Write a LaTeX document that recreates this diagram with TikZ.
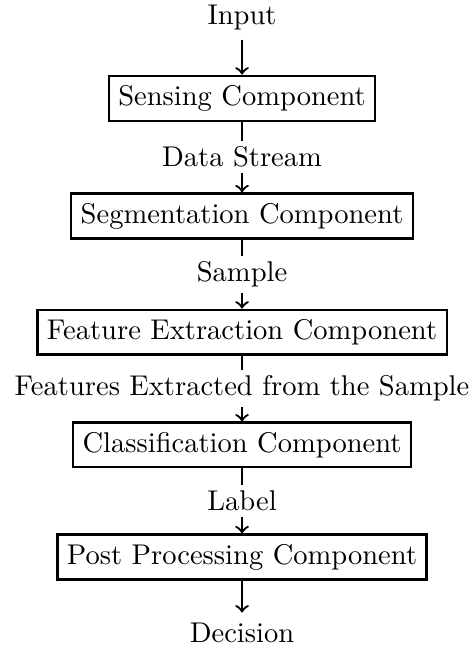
\documentclass[tikz,border=0pt]{standalone}
\usepackage{tikz}
\usetikzlibrary{arrows}
\tikzset{
    stagebox/.style={draw, thick, inner sep=3.33pt} }
\tikzset{
    flowarrow/.style={->, thick} }
\tikzset{
    flowlabel/.style={fill=white, inner sep=2pt} }

\begin{document}
\begin{tikzpicture}

  \useasboundingbox (-2.981,0) rectangle (2.846,-8.03);

  \node (input) at (0,-0.21) {Input};
  \node [stagebox] (sensing) at (0,-1.21) {Sensing Component};
  \node [stagebox] (segment) at (0,-2.66) {Segmentation Component};
  \node [stagebox] (feature) at (0,-4.09) {Feature Extraction Component};
  \node [stagebox] (classify) at (0,-5.48) {Classification Component};
  \node [stagebox] (postproc) at (0,-6.86) {Post Processing Component};
  \node (decision) at (0,-7.79) {Decision};

  \draw [flowarrow] (input) -- (sensing);
  \draw [flowarrow] (sensing) -- node [flowlabel] {Data Stream} (segment);
  \draw [flowarrow] (segment) -- node [flowlabel] {Sample} (feature);
  \draw [flowarrow] (feature) -- node [flowlabel] {Features Extracted from the Sample} (classify);
  \draw [flowarrow] (classify) -- node [flowlabel] {Label} (postproc);
  \draw [flowarrow] (postproc) -- (decision);

%  \draw [dashed] (-2.9,0) -- (2.8,0);

\end{tikzpicture}
\end{document}
